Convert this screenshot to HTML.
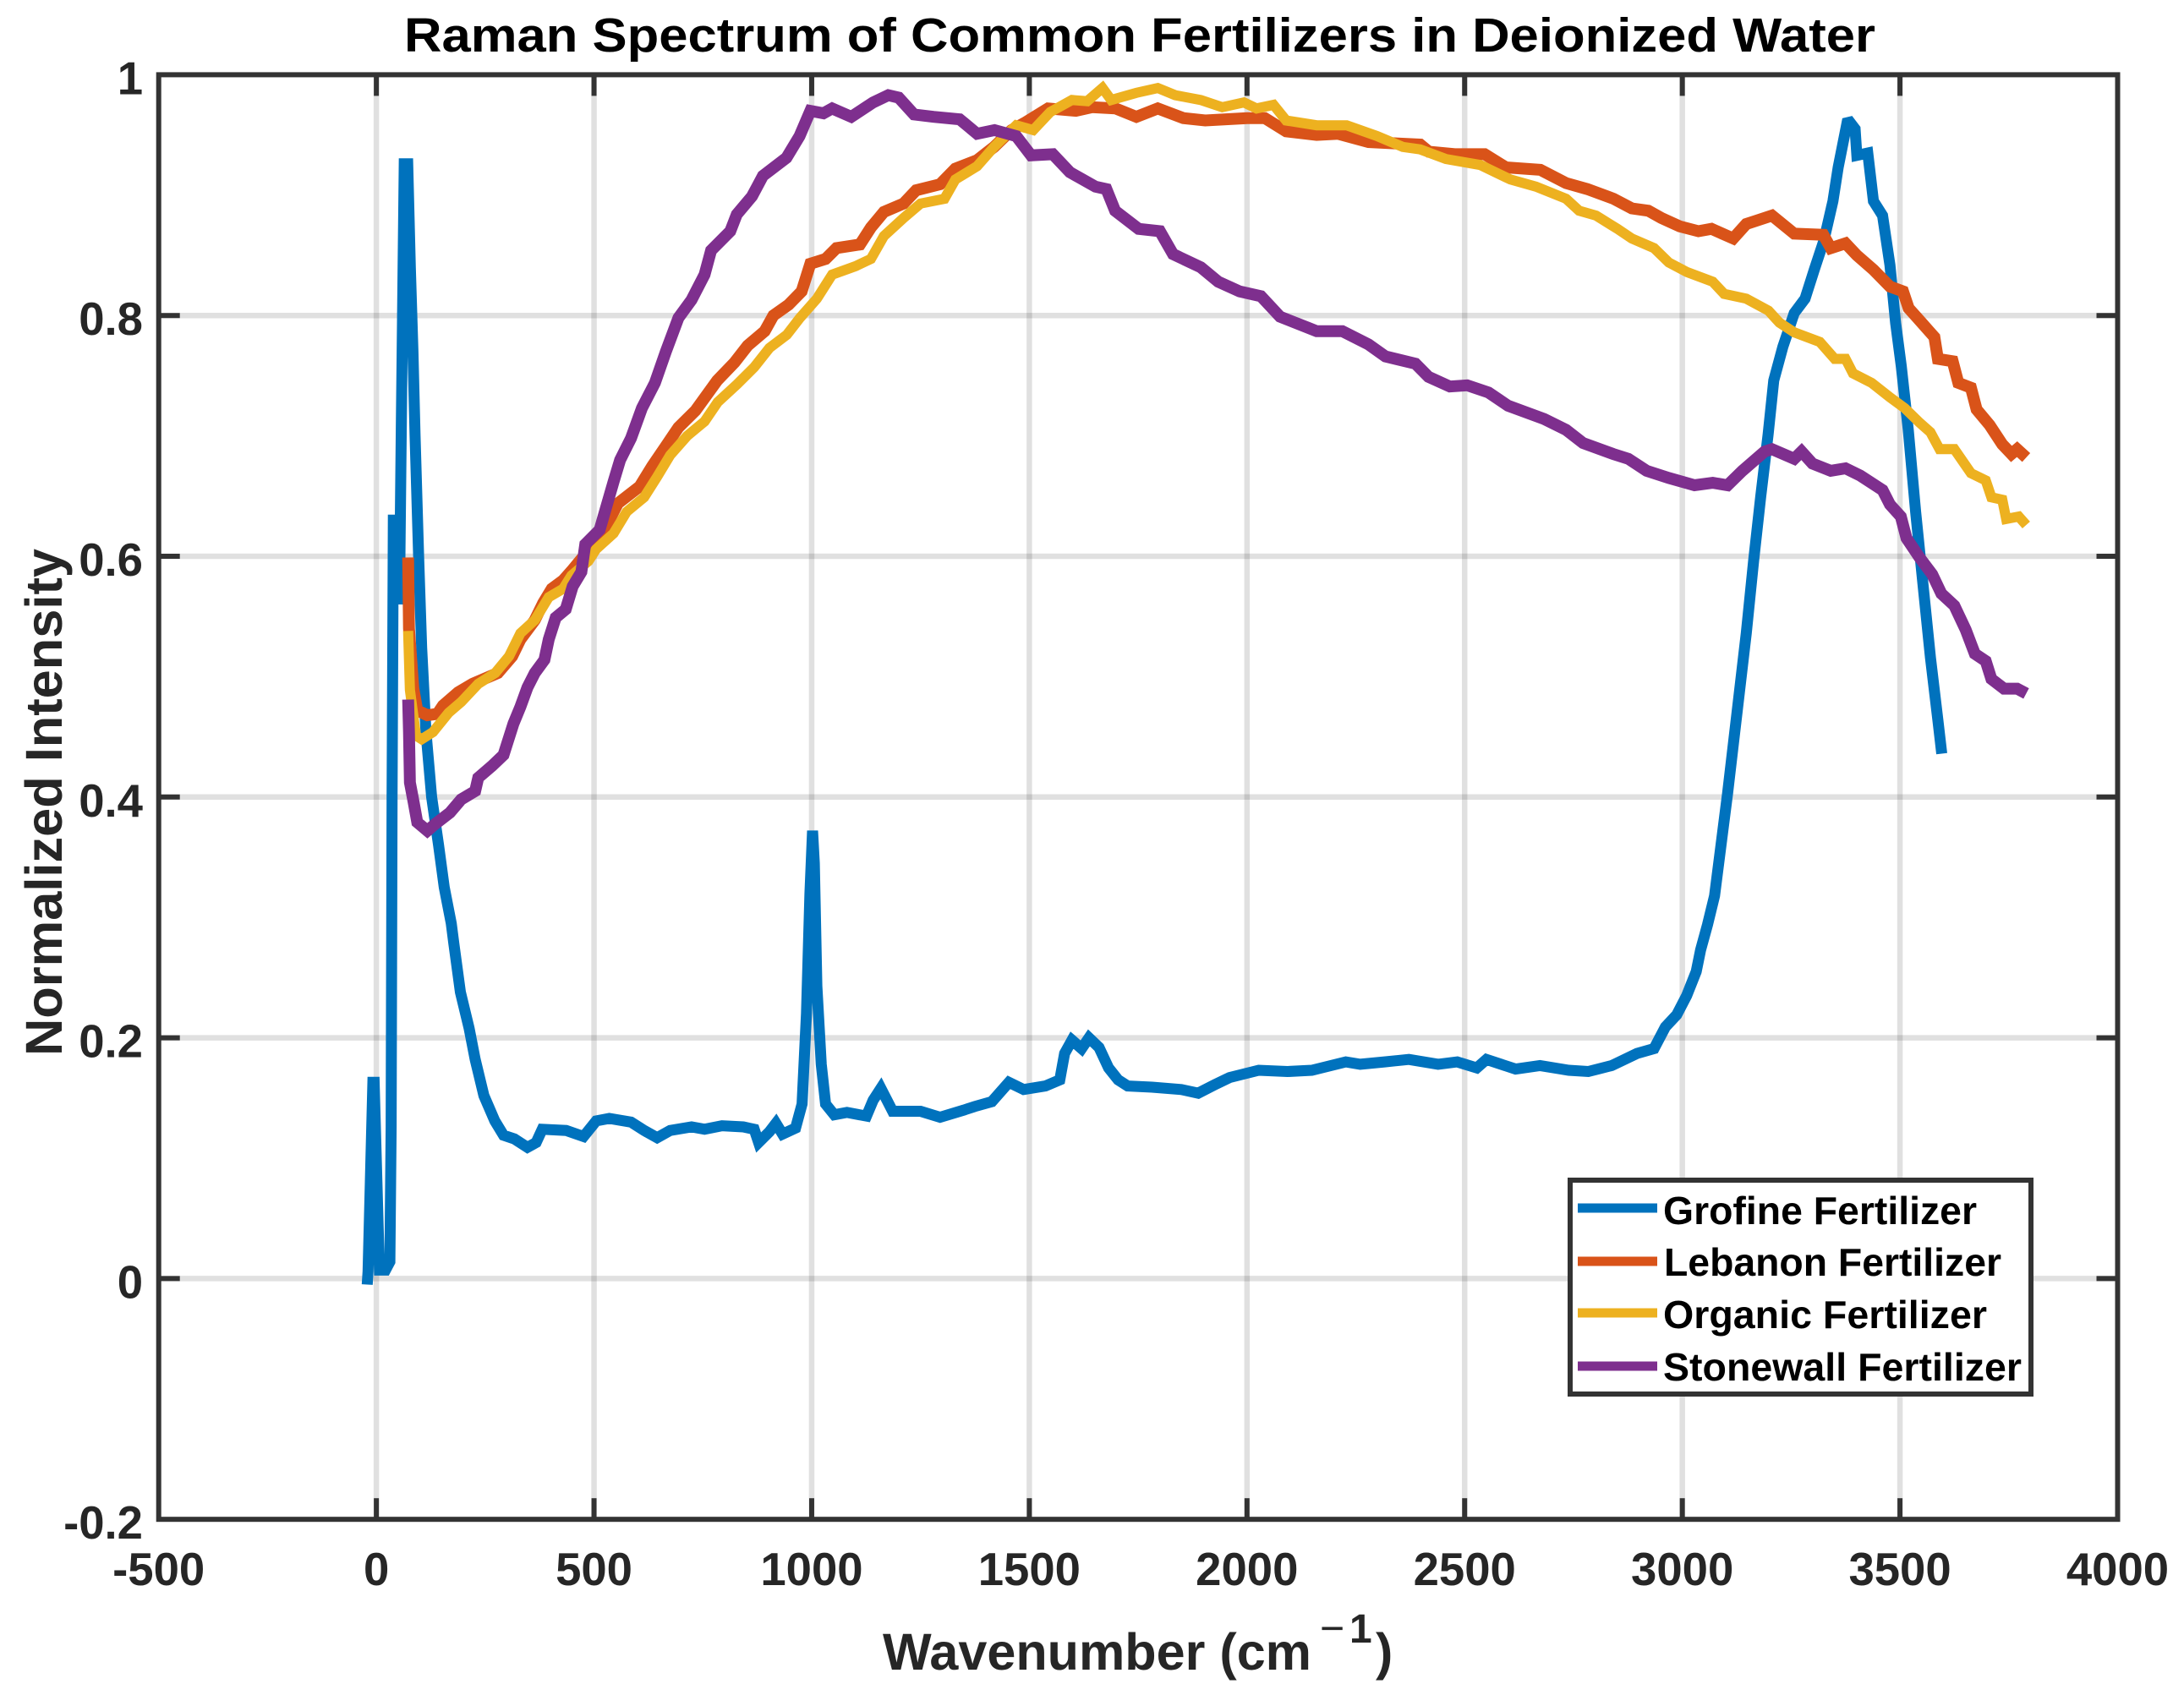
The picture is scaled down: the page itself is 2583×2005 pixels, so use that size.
<!DOCTYPE html>
<html>
<head>
<meta charset="utf-8">
<title>Raman Spectrum of Common Fertilizers in Deionized Water</title>
<style>
html,body{margin:0;padding:0;background:#fff;}
svg{display:block;font-family:"Liberation Sans",Arial,sans-serif;font-weight:bold;}
</style>
</head>
<body>
<svg id="chart" xmlns="http://www.w3.org/2000/svg" width="2583" height="2005" viewBox="0 0 2583 2005">
<rect x="0" y="0" width="2583" height="2005" fill="#fff"/>
<g id="grid"></g>
<g id="series"></g>
<g id="axes"></g>
<text x="478" y="61" font-size="57" fill="#000" textLength="1740" lengthAdjust="spacingAndGlyphs">Raman Spectrum of Common Fertilizers in Deionized Water</text>
<text transform="translate(73,1249) rotate(-90)" font-size="61" fill="#262626" textLength="600" lengthAdjust="spacingAndGlyphs">Normalized Intensity</text>
<g fill="#262626">
<text x="1044" y="1975" font-size="61" textLength="507" lengthAdjust="spacingAndGlyphs">Wavenumber (cm</text>
<text x="1561" y="1943" font-size="50" font-weight="normal">−</text>
<text x="1596" y="1943" font-size="48">1</text>
<text x="1627" y="1975" font-size="61">)</text>
</g>
<g>
<rect x="1857" y="1396" width="545" height="253" fill="#fff" stroke="#333" stroke-width="6"/>
<line x1="1866" x2="1960" y1="1429" y2="1429" stroke="#0072BD" stroke-width="11"/>
<line x1="1866" x2="1960" y1="1492" y2="1492" stroke="#D95319" stroke-width="11"/>
<line x1="1866" x2="1960" y1="1553" y2="1553" stroke="#EDB120" stroke-width="11"/>
<line x1="1866" x2="1960" y1="1616" y2="1616" stroke="#7E2F8E" stroke-width="11"/>
<text x="1967" y="1448" font-size="46" fill="#000" textLength="371" lengthAdjust="spacingAndGlyphs">Grofine Fertilizer</text>
<text x="1968" y="1509" font-size="46" fill="#000" textLength="399" lengthAdjust="spacingAndGlyphs">Lebanon Fertilizer</text>
<text x="1967" y="1571" font-size="46" fill="#000" textLength="383" lengthAdjust="spacingAndGlyphs">Organic Fertilizer</text>
<text x="1967" y="1633" font-size="46" fill="#000" textLength="424" lengthAdjust="spacingAndGlyphs">Stonewall Fertilizer</text>
</g>
</svg>
<script>
var xTickValues = [-500,0,500,1000,1500,2000,2500,3000,3500,4000];
var yTickValues = [-0.2,0,0.2,0.4,0.6,0.8,1];
var yTickLabels = ['-0.2','0','0.2','0.4','0.6','0.8','1'];

var grofineX = [-21,-19,-8,-5,7,21,31,34,36,39,52,53,57,64,72,78,84,89,97,104,114,127,143,156,172,178,193,213,227,247,272,292,317,347,367,381,436,476,505,535,585,615,645,675,724,754,794,843,868,878,903,918,933,963,978,988,996,1002,1006,1012,1022,1032,1052,1081,1126,1141,1159,1186,1250,1295,1350,1375,1414,1453,1487,1537,1570,1581,1598,1620,1637,1660,1682,1704,1726,1782,1849,1888,1926,1960,2027,2093,2149,2227,2260,2316,2372,2439,2483,2528,2550,2617,2673,2739,2784,2838,2896,2935,2961,2987,3010,3032,3042,3058,3074,3104,3125,3147,3164,3180,3197,3210,3231,3257,3282,3303,3325,3346,3358,3380,3397,3401,3426,3439,3460,3477,3490,3503,3519,3536,3553,3570,3587,3596];
var grofineY = [-0.005,0.006,0.163,0.163,0.007,0.007,0.014,0.126,0.4,0.63,0.63,0.56,0.7,0.926,0.926,0.84,0.77,0.7,0.6,0.524,0.454,0.4,0.36,0.325,0.295,0.278,0.238,0.208,0.182,0.152,0.131,0.119,0.116,0.109,0.113,0.124,0.123,0.118,0.131,0.133,0.13,0.123,0.117,0.123,0.126,0.124,0.127,0.126,0.124,0.113,0.122,0.129,0.12,0.125,0.145,0.22,0.32,0.372,0.345,0.243,0.178,0.145,0.136,0.138,0.135,0.148,0.158,0.139,0.139,0.134,0.14,0.143,0.147,0.163,0.157,0.16,0.165,0.187,0.198,0.191,0.2,0.192,0.175,0.165,0.16,0.159,0.157,0.154,0.161,0.167,0.173,0.172,0.173,0.18,0.178,0.18,0.182,0.178,0.18,0.175,0.182,0.174,0.177,0.173,0.172,0.177,0.187,0.191,0.209,0.219,0.235,0.255,0.273,0.294,0.318,0.403,0.468,0.536,0.597,0.649,0.701,0.746,0.774,0.802,0.814,0.838,0.862,0.895,0.923,0.963,0.955,0.933,0.935,0.895,0.883,0.842,0.794,0.758,0.705,0.637,0.576,0.516,0.464,0.436];

var lebanonX = [73,75,85,94,117,140,153,188,221,279,312,331,364,383,403,429,451,474,525,555,605,634,664,694,733,783,823,853,892,912,947,977,997,1032,1057,1111,1136,1166,1211,1240,1295,1330,1380,1419,1459,1489,1543,1607,1644,1698,1746,1795,1854,1904,2000,2041,2090,2160,2209,2279,2398,2418,2477,2546,2595,2674,2733,2782,2842,2884,2922,2952,2994,3037,3067,3117,3147,3206,3257,3324,3341,3375,3401,3439,3477,3507,3520,3545,3579,3587,3621,3634,3663,3676,3706,3735,3756,3769,3790];
var lebanonY = [0.599,0.54,0.49,0.472,0.468,0.469,0.476,0.487,0.494,0.503,0.517,0.531,0.547,0.561,0.573,0.58,0.589,0.599,0.623,0.644,0.658,0.675,0.691,0.707,0.721,0.746,0.761,0.775,0.787,0.8,0.809,0.82,0.843,0.847,0.856,0.859,0.873,0.886,0.893,0.904,0.909,0.922,0.929,0.94,0.954,0.96,0.972,0.97,0.973,0.972,0.965,0.972,0.964,0.962,0.964,0.964,0.953,0.95,0.951,0.944,0.942,0.936,0.934,0.934,0.923,0.921,0.91,0.905,0.897,0.889,0.887,0.881,0.874,0.87,0.872,0.864,0.876,0.883,0.868,0.867,0.856,0.86,0.85,0.838,0.824,0.82,0.806,0.796,0.782,0.764,0.762,0.744,0.74,0.722,0.709,0.693,0.685,0.689,0.682];

var organicX = [73,77,91,104,130,166,195,234,273,305,331,364,396,429,448,487,505,545,575,615,645,675,714,754,784,829,868,903,943,973,1012,1047,1101,1136,1166,1211,1250,1305,1330,1380,1419,1470,1509,1548,1598,1633,1668,1688,1746,1795,1835,1894,1943,1993,2022,2061,2090,2160,2229,2299,2358,2398,2457,2536,2605,2664,2733,2763,2802,2851,2884,2935,2969,3011,3070,3096,3147,3198,3223,3257,3316,3350,3375,3392,3435,3477,3511,3545,3570,3591,3625,3663,3697,3710,3735,3744,3773,3790];
var organicY = [0.538,0.489,0.451,0.448,0.454,0.47,0.479,0.494,0.503,0.517,0.536,0.547,0.566,0.573,0.584,0.596,0.606,0.619,0.637,0.649,0.666,0.684,0.7,0.712,0.728,0.743,0.757,0.773,0.784,0.798,0.814,0.834,0.841,0.847,0.866,0.881,0.893,0.897,0.913,0.924,0.94,0.958,0.954,0.969,0.979,0.978,0.989,0.979,0.985,0.989,0.983,0.979,0.973,0.977,0.972,0.975,0.962,0.958,0.958,0.949,0.94,0.938,0.93,0.925,0.913,0.907,0.897,0.887,0.883,0.872,0.864,0.856,0.844,0.836,0.828,0.818,0.814,0.804,0.794,0.786,0.778,0.764,0.764,0.752,0.744,0.732,0.723,0.711,0.703,0.689,0.689,0.669,0.663,0.649,0.647,0.631,0.633,0.626];

var stonewallX = [73,75,77,86,94,117,133,169,195,227,234,266,292,315,331,347,364,386,396,412,435,451,471,480,513,545,560,585,610,640,665,694,724,754,769,813,828,863,888,942,972,997,1027,1047,1091,1141,1176,1200,1235,1280,1340,1380,1420,1470,1504,1554,1593,1652,1677,1697,1751,1800,1830,1894,1934,1983,2032,2076,2160,2219,2279,2318,2387,2417,2466,2506,2555,2600,2683,2733,2772,2841,2876,2918,2969,3028,3070,3104,3138,3189,3206,3257,3274,3299,3341,3375,3409,3460,3477,3502,3515,3545,3574,3595,3625,3651,3672,3697,3710,3739,3769,3790];
var stonewallY = [0.481,0.454,0.412,0.395,0.379,0.372,0.377,0.387,0.398,0.405,0.416,0.426,0.435,0.461,0.475,0.491,0.503,0.514,0.531,0.549,0.556,0.575,0.587,0.61,0.622,0.662,0.68,0.698,0.723,0.744,0.77,0.798,0.813,0.834,0.854,0.87,0.884,0.899,0.916,0.931,0.949,0.97,0.968,0.972,0.965,0.977,0.983,0.981,0.967,0.965,0.963,0.951,0.954,0.949,0.933,0.934,0.919,0.907,0.905,0.887,0.872,0.87,0.851,0.84,0.828,0.82,0.816,0.799,0.787,0.787,0.776,0.766,0.76,0.749,0.741,0.742,0.736,0.725,0.714,0.705,0.694,0.685,0.681,0.671,0.665,0.659,0.661,0.659,0.671,0.687,0.689,0.681,0.687,0.677,0.671,0.673,0.667,0.655,0.643,0.633,0.615,0.599,0.585,0.569,0.559,0.539,0.519,0.513,0.498,0.49,0.49,0.486];

var NS = 'http://www.w3.org/2000/svg';
function xScale(v){ return 187.7 + (v + 500) * (2316.8 / 4500); }
function yScale(v){ return 1512.4 - v * 1424; }

var gridG = document.getElementById('grid');
var axesG = document.getElementById('axes');
var seriesG = document.getElementById('series');

function makeLine(parent, x1, y1, x2, y2, stroke, width, opacity){
  var l = document.createElementNS(NS, 'line');
  l.setAttribute('x1', x1);
  l.setAttribute('y1', y1);
  l.setAttribute('x2', x2);
  l.setAttribute('y2', y2);
  l.setAttribute('stroke', stroke);
  l.setAttribute('stroke-width', width);
  if (opacity) { l.setAttribute('stroke-opacity', opacity); }
  parent.appendChild(l);
  return l;
}

var left = xScale(-500), right = xScale(4000), top_ = yScale(1), bottom = yScale(-0.2);

xTickValues.forEach(function(v){
  var x = xScale(v);
  if (v !== -500 && v !== 4000) {
    var g = makeLine(gridG, x, top_, x, bottom, '#000', 6.5, 0.12);
    
    
    var t1 = makeLine(axesG, x, bottom, x, bottom - 25, '#333', 6);
    
    
    var t2 = makeLine(axesG, x, top_, x, top_ + 25, '#333', 6);
    
    
  }
  var tx = document.createElementNS(NS, 'text');
  
  
  tx.setAttribute('x', x);
  tx.setAttribute('y', 1875);
  tx.setAttribute('text-anchor', 'middle');
  tx.setAttribute('font-size', '54.5');
  tx.setAttribute('fill', '#262626');
  tx.textContent = String(v);
  axesG.appendChild(tx);
});

yTickValues.forEach(function(v, i){
  var y = yScale(v);
  if (v !== -0.2 && v !== 1) {
    var g = makeLine(gridG, left, y, right, y, '#000', 6.5, 0.12);
    
    
    var t1 = makeLine(axesG, left, y, left + 25, y, '#333', 6);
    
    
    var t2 = makeLine(axesG, right, y, right - 25, y, '#333', 6);
    
    
  }
  var tx = document.createElementNS(NS, 'text');
  
  
  tx.setAttribute('x', 169);
  tx.setAttribute('y', y + 23);
  tx.setAttribute('text-anchor', 'end');
  tx.setAttribute('font-size', '54.5');
  tx.setAttribute('fill', '#262626');
  tx.textContent = yTickLabels[i];
  axesG.appendChild(tx);
});

var frame = document.createElementNS(NS, 'rect');


frame.setAttribute('x', left);
frame.setAttribute('y', top_);
frame.setAttribute('width', right - left);
frame.setAttribute('height', bottom - top_);
frame.setAttribute('fill', 'none');
frame.setAttribute('stroke', '#333');
frame.setAttribute('stroke-width', '6');
axesG.appendChild(frame);

function drawSeries(xs, ys, color, width){
  var d = '';
  for (var i = 0; i < xs.length; i++) {
    d += (i ? 'L' : 'M') + xScale(xs[i]).toFixed(1) + ' ' + yScale(ys[i]).toFixed(1);
  }
  var p = document.createElementNS(NS, 'path');
  p.setAttribute('d', d);
  p.setAttribute('fill', 'none');
  p.setAttribute('stroke', color);
  p.setAttribute('stroke-width', width);
  p.setAttribute('stroke-linejoin', 'miter');
  p.setAttribute('stroke-miterlimit', '2');
  seriesG.appendChild(p);
  return p;
}

var lineGrofine = drawSeries(grofineX, grofineY, '#0072BD', 13);


var lineLebanon = drawSeries(lebanonX, lebanonY, '#D95319', 14);


var lineOrganic = drawSeries(organicX, organicY, '#EDB120', 12);


var lineStonewall = drawSeries(stonewallX, stonewallY, '#7E2F8E', 14);


</script>
</body>
</html>
